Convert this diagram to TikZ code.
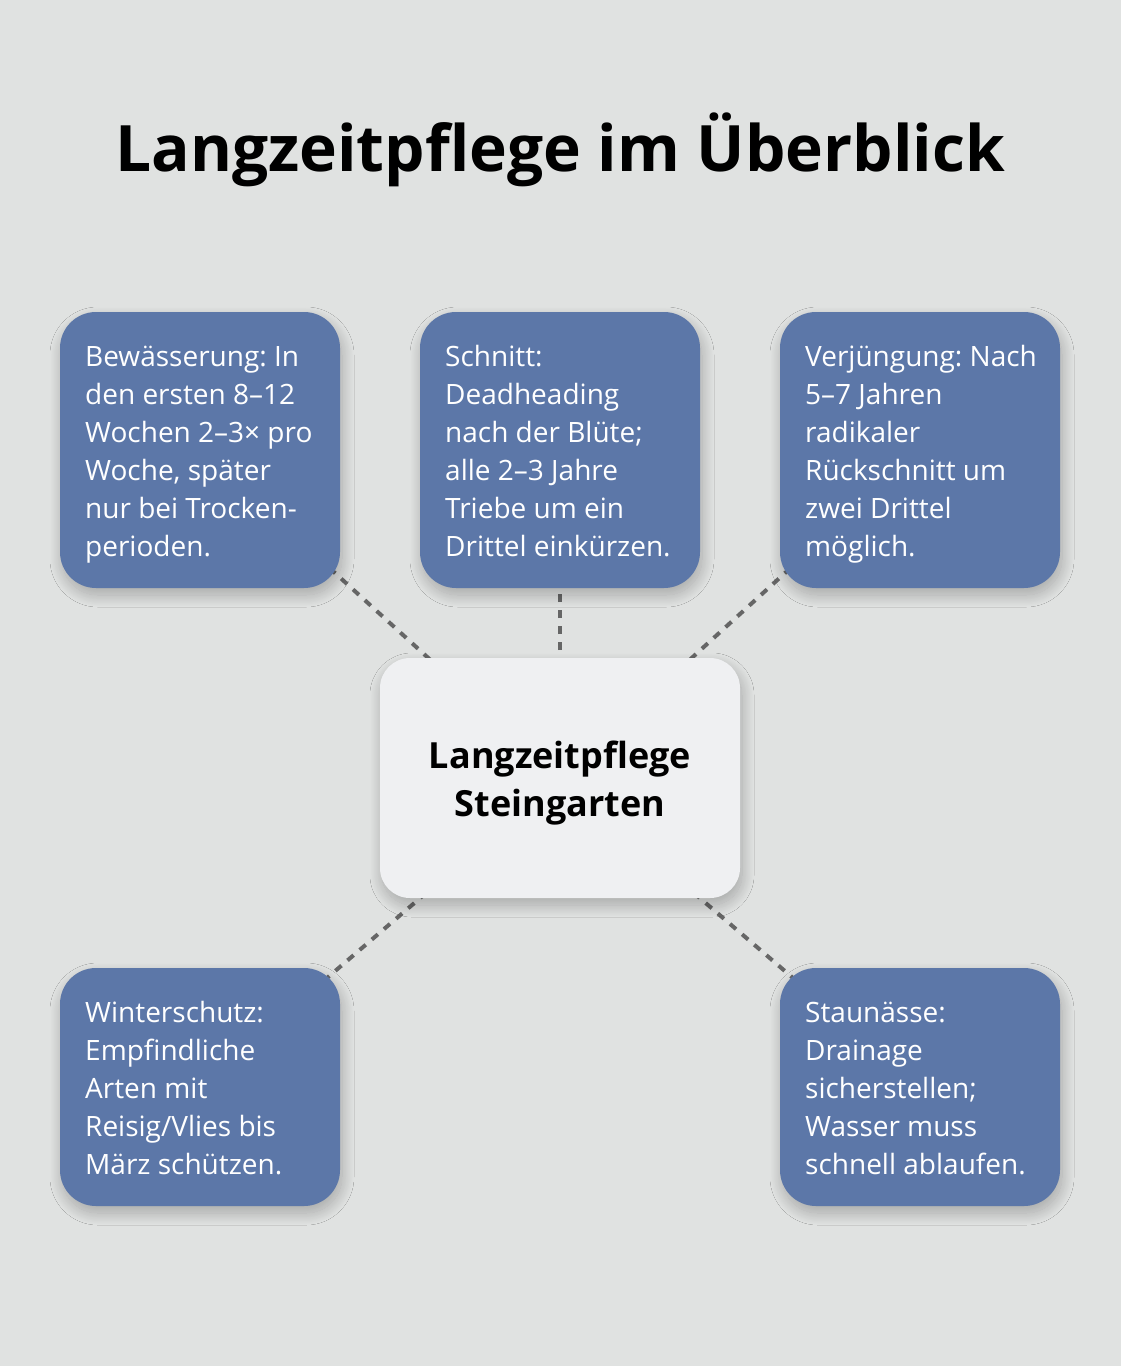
\documentclass[tikz,border=0pt]{standalone}
\usepackage{fontspec}
\setmainfont{Open Sans}
\usetikzlibrary{shadows.blur}
\definecolor{bgcol}{HTML}{E0E2E1}
\definecolor{boxblue}{HTML}{5C77A8}
\definecolor{centerfill}{HTML}{EFF0F2}
\definecolor{dashgray}{HTML}{666666}
\frenchspacing
\begin{document}
\begin{tikzpicture}[x=1pt,y=-1pt,
  softshadow/.style={blur shadow={shadow xshift=2pt, shadow yshift=-7pt, shadow blur radius=12pt, shadow blur steps=30, shadow opacity=26}},
  outerbox/.style={draw=none, fill=boxblue, rounded corners=36pt, minimum width=280pt, inner sep=0pt, softshadow},
  centerbox/.style={draw=none, fill=centerfill, rounded corners=30pt, minimum width=360pt, minimum height=240pt, inner sep=0pt, softshadow},
  boxtext/.style={anchor=base west, align=left, inner sep=0pt, text=white, font=\fontsize{28}{38}\selectfont},
  centertext/.style={anchor=base, align=center, inner sep=0pt, text=black, font=\fontsize{36}{48}\selectfont\bfseries},
  titletext/.style={anchor=base, inner sep=0pt, text=black, font=\fontsize{64}{78}\selectfont\bfseries},
  link/.style={draw=dashgray, line width=4pt, dash pattern=on 8pt off 8pt}]
\useasboundingbox (0,0) rectangle (1120,1366);
\fill[bgcol] (-4,-4) rectangle (1124,1370);

\node[titletext] (title) at (560,171) {Langzeitpflege im Überblick};

% positions
\coordinate (pA) at (200,450);
\coordinate (pB) at (560,450);
\coordinate (pC) at (920,450);
\coordinate (pD) at (200,1087);
\coordinate (pE) at (920,1087);
\coordinate (pM) at (560,778);

% connectors (behind boxes), drawn from the centre outward
\draw[link] (pM) -- (pA);
\draw[link] (pM) -- (pB);
\draw[link] (pM) -- (pC);
\draw[link] (pM) -- (pD);
\draw[link] (pM) -- (pE);

% boxes
\node[outerbox, minimum height=276pt] (boxA) at (pA) {};
\node[outerbox, minimum height=276pt] (boxB) at (pB) {};
\node[outerbox, minimum height=276pt] (boxC) at (pC) {};
\node[outerbox, minimum height=238pt] (boxD) at (pD) {};
\node[outerbox, minimum height=238pt] (boxE) at (pE) {};
\node[centerbox] (center) at (pM) {};

% texts (base anchor = baseline of the last line)
\node[boxtext] (tA) at (85,556) {Bewässerung: In\\den ersten 8–12\\Wochen 2–3× pro\\Woche, später\\nur bei Trocken-\\perioden.};
\node[boxtext] (tB) at (445,556) {Schnitt:\\Deadheading\\nach der Blüte;\\alle 2–3 Jahre\\Triebe um ein\\Drittel einkürzen.};
\node[boxtext] (tC) at (805,556) {Verjüngung: Nach\\5–7 Jahren\\radikaler\\Rückschnitt um\\zwei Drittel\\möglich.};
\node[boxtext] (tD) at (85,1174) {Winterschutz:\\Empfindliche\\Arten mit\\Reisig/Vlies bis\\März schützen.};
\node[boxtext] (tE) at (805,1174) {Staunässe:\\Drainage\\sicherstellen;\\Wasser muss\\schnell ablaufen.};
\node[centertext] (tM) at (560,816) {Langzeitpflege\\Steingarten};
\end{tikzpicture}
\end{document}
